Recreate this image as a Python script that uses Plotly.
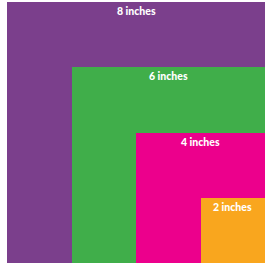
import plotly.graph_objects as go

sizes = [8, 6, 4, 2]
labels = ["8 inches", "6 inches", "4 inches", "2 inches"]
colors = ["#7B3F8C", "#40AE4A", "#EC008C", "#F9A61E"]
total = 8

fig = go.Figure()
for s, lab, c in zip(sizes, labels, colors):
    fig.add_trace(go.Bar(
        x=[total - s / 2], y=[s], width=[s], base=[0],
        marker=dict(color=c, line=dict(width=0)),
        hoverinfo="skip", showlegend=False,
    ))
    fig.add_annotation(
        x=total - s / 2, y=s, xref="x", yref="y", text=lab,
        showarrow=False, yanchor="middle", yshift=-9,
        font=dict(family="Lato", size=10.5, color="white", weight=900),
    )

fig.update_layout(
    width=265, height=264,
    margin=dict(l=7, r=0, t=2, b=1),
    barmode="overlay", bargap=0,
    paper_bgcolor="white", plot_bgcolor="white",
    xaxis=dict(range=[0, total], visible=False, fixedrange=True),
    yaxis=dict(range=[0, total], visible=False, fixedrange=True),
)
fig.write_html(
    "out.html",
    config={"displayModeBar": False},
    post_script="document.body.style.margin='0';document.body.style.overflow='hidden';",
)
